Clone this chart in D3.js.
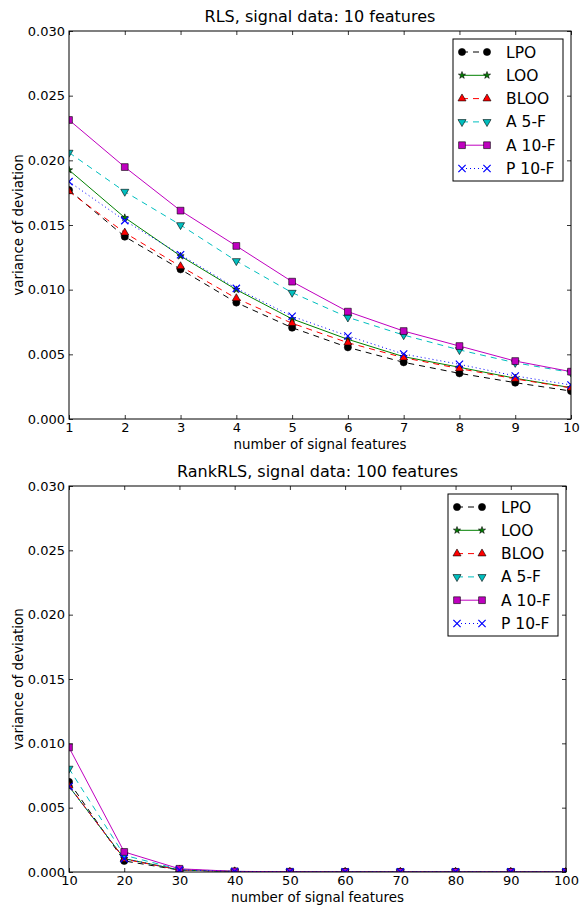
<!DOCTYPE html>
<html>
<head>
<meta charset="utf-8">
<script src="https://cdn.jsdelivr.net/npm/d3@7"></script>
<style>
  body { margin: 0; background: #fff; }
  text { font-family: "DejaVu Sans", sans-serif; }
</style>
</head>
<body>
<svg id="chart" width="580" height="905"></svg>
<script>
// Series names (legend order)
const seriesNames = ["LPO", "LOO", "BLOO", "A 5-F", "A 10-F", "P 10-F"]

// RLS, 10 features
const rlsX = [1, 2, 3, 4, 5, 6, 7, 8, 9, 10]
const rlsLPO  = [0.0177, 0.0141, 0.01157, 0.0090, 0.00706, 0.00554, 0.00438, 0.00353, 0.00281, 0.00216]
const rlsLOO  = [0.01925, 0.01557, 0.0126, 0.0100, 0.00774, 0.00616, 0.00482, 0.0040, 0.00315, 0.00242]
const rlsBLOO = [0.0176, 0.0144, 0.0118, 0.00933, 0.0074, 0.0059, 0.00474, 0.0039, 0.0031, 0.0024]
const rlsA5F  = [0.0206, 0.01758, 0.0150, 0.01222, 0.00977, 0.00786, 0.00649, 0.00534, 0.00435, 0.0036]
const rlsA10F = [0.02312, 0.01948, 0.01611, 0.01338, 0.01062, 0.0083, 0.0068, 0.00564, 0.00448, 0.00366]
const rlsP10F = [0.01835, 0.01534, 0.0127, 0.0101, 0.00794, 0.00642, 0.00502, 0.00423, 0.00333, 0.00263]

// RankRLS, 100 features
const rankX = [10, 20, 30, 40, 50, 60, 70, 80, 90, 100]
const rankLPO  = [0.0070, 0.00086, 0.00015, 0.00004, 0.00001, 0.00001, 0.00001, 0.00001, 0.00001, 0.00001]
const rankLOO  = [0.00665, 0.00104, 0.00016, 0.00004, 0.00001, 0.00001, 0.00001, 0.00001, 0.00001, 0.00001]
const rankBLOO = [0.0067, 0.00100, 0.00016, 0.00004, 0.00001, 0.00001, 0.00001, 0.00001, 0.00001, 0.00001]
const rankA5F  = [0.00804, 0.0013, 0.0002, 0.00005, 0.00001, 0.00001, 0.00001, 0.00001, 0.00001, 0.00001]
const rankA10F = [0.00968, 0.00156, 0.00025, 0.00005, 0.00002, 0.00001, 0.00001, 0.00001, 0.00001, 0.00001]
const rankP10F = [0.00665, 0.00104, 0.00016, 0.00004, 0.00001, 0.00001, 0.00001, 0.00001, 0.00001, 0.00001]

const yTicks = [0, 0.005, 0.010, 0.015, 0.020, 0.025, 0.030]

// estilos de cada serie (matplotlib: k--o, g-*, r--^, c--v, m-s, b:x)
const styles = {
  "LPO":    { color: "#000000", dash: "6,5", symbol: d3.symbolCircle, size: 40, rot: 0, fill: "#000000", stroke: "#000000" },
  "LOO":    { color: "#008000", dash: null,  symbol: d3.symbolStar, size: 16, rot: 0, fill: "#008000", stroke: "#000000" },
  "BLOO":   { color: "#ff0000", dash: "6,5", symbol: d3.symbolTriangle, size: 28, rot: 0, fill: "#ff0000", stroke: "#000000" },
  "A 5-F":  { color: "#00bfbf", dash: "6,5", symbol: d3.symbolTriangle, size: 28, rot: 180, fill: "#00bfbf", stroke: "#000000" },
  "A 10-F": { color: "#bf00bf", dash: null,  symbol: d3.symbolSquare, size: 46, rot: 0, fill: "#bf00bf", stroke: "#000000" },
  "P 10-F": { color: "#0000ff", dash: "1,3", symbol: d3.symbolX, size: 36, rot: 0, fill: "none", stroke: "#0000ff" }
}

const svg = d3.select('#chart')
const fmt = d3.format('.3f')

function drawPanel(p) {
  const x = d3.scaleLinear().domain(p.xDomain).range([p.left, p.right])
  const y = d3.scaleLinear().domain([0, 0.03]).range([p.bottom, p.top])
  const g = svg.append('g')

  g.append('clipPath').attr('id', p.id)
    .append('rect')
    .attr('x', p.left).attr('y', p.top)
    .attr('width', p.right - p.left).attr('height', p.bottom - p.top)

  // Ejes (ticks hacia dentro)
  const axL = g.append('g').attr('transform', `translate(${p.left},0)`)
    .call(d3.axisLeft(y).tickValues(yTicks).tickFormat(fmt).tickSizeInner(-4).tickSizeOuter(0).tickPadding(4))
  const axR = g.append('g').attr('transform', `translate(${p.right},0)`)
    .call(d3.axisRight(y).tickValues(yTicks).tickFormat('').tickSizeInner(-4).tickSizeOuter(0))
  const axB = g.append('g').attr('transform', `translate(0,${p.bottom})`)
    .call(d3.axisBottom(x).tickValues(p.xData).tickFormat(d3.format('d')).tickSizeInner(-4).tickSizeOuter(0).tickPadding(4))
  const axT = g.append('g').attr('transform', `translate(0,${p.top})`)
    .call(d3.axisTop(x).tickValues(p.xData).tickFormat('').tickSizeInner(-4).tickSizeOuter(0))
  for (const a of [axL, axR, axB, axT]) {
    a.select('.domain').remove()
    a.selectAll('line').attr('stroke', '#000').attr('stroke-width', 0.8)
    a.selectAll('text').attr('font-size', 13).attr('fill', '#000')
      .attr('font-family', '"DejaVu Sans", sans-serif')
  }

  // Series
  const plot = g.append('g').attr('clip-path', `url(#${p.id})`)
  seriesNames.forEach((name, i) => {
    const s = styles[name]
    const pts = p.xData.map((v, j) => [v, p.series[i][j]])
    plot.append('path')
      .attr('d', d3.line().x(d => x(d[0])).y(d => y(d[1]))(pts))
      .attr('fill', 'none')
      .attr('stroke', s.color)
      .attr('stroke-width', 1)
      .attr('stroke-dasharray', s.dash)
    plot.selectAll(null)
      .data(pts)
      .join('path')
      .attr('d', d3.symbol(s.symbol, s.size))
      .attr('transform', d => `translate(${x(d[0])},${y(d[1])}) rotate(${s.rot})`)
      .attr('fill', s.fill)
      .attr('stroke', s.stroke)
      .attr('stroke-width', name === "P 10-F" ? 1.2 : 0.6)
  })

  // Marco
  g.append('rect')
    .attr('x', p.left).attr('y', p.top)
    .attr('width', p.right - p.left).attr('height', p.bottom - p.top)
    .attr('fill', 'none').attr('stroke', '#000').attr('stroke-width', 1)

  // Textos
  g.append('text')
    .text(p.title)
    .attr('x', (p.left + p.right) / 2).attr('y', p.top - 9)
    .attr('text-anchor', 'middle').attr('font-size', 16)
  g.append('text')
    .text('number of signal features')
    .attr('x', (p.left + p.right) / 2).attr('y', p.bottom + 30)
    .attr('text-anchor', 'middle').attr('font-size', 13.4)
  g.append('text')
    .text('variance of deviation')
    .attr('transform', `translate(23,${(p.top + p.bottom) / 2}) rotate(-90)`)
    .attr('text-anchor', 'middle').attr('font-size', 13.4)

  // Leyenda
  const lx = p.right - 8 - 110, ly = p.top + 8
  const leg = g.append('g')
  leg.append('rect')
    .attr('x', lx).attr('y', ly).attr('width', 110).attr('height', 142)
    .attr('fill', '#fff').attr('stroke', '#000').attr('stroke-width', 1)
  seriesNames.forEach((name, i) => {
    const s = styles[name]
    const ry = ly + 13 + i * 23.3
    leg.append('line')
      .attr('x1', lx + 9).attr('x2', lx + 34).attr('y1', ry).attr('y2', ry)
      .attr('stroke', s.color).attr('stroke-width', 1)
      .attr('stroke-dasharray', s.dash)
    for (const mx of [lx + 9, lx + 34]) {
      leg.append('path')
        .attr('d', d3.symbol(s.symbol, s.size))
        .attr('transform', `translate(${mx},${ry}) rotate(${s.rot})`)
        .attr('fill', s.fill).attr('stroke', s.stroke)
        .attr('stroke-width', name === "P 10-F" ? 1.2 : 0.6)
    }
    leg.append('text')
      .text(name)
      .attr('x', lx + 53).attr('y', ry).attr('dy', '0.36em')
      .attr('font-size', 15.5)
  })
}

drawPanel({
  id: 'clip1', left: 69, right: 571, top: 31, bottom: 419,
  xDomain: [1, 10], xData: rlsX,
  series: [rlsLPO, rlsLOO, rlsBLOO, rlsA5F, rlsA10F, rlsP10F],
  title: 'RLS, signal data: 10 features'
})

drawPanel({
  id: 'clip2', left: 69, right: 566, top: 486, bottom: 872,
  xDomain: [10, 100], xData: rankX,
  series: [rankLPO, rankLOO, rankBLOO, rankA5F, rankA10F, rankP10F],
  title: 'RankRLS, signal data: 100 features'
})
</script>
</body>
</html>
